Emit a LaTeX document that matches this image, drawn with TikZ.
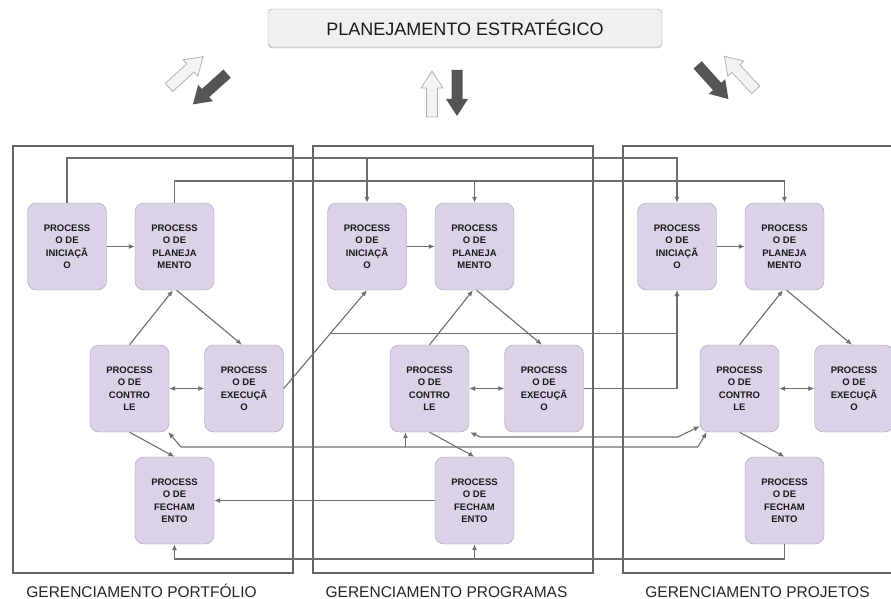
\documentclass[tikz,border=0pt]{standalone}
\usepackage{fontspec}
\setmainfont{Liberation Sans}
\usetikzlibrary{positioning,arrows.meta,shadows}

\definecolor{boxfill}{HTML}{DAD3E8}
\definecolor{boxline}{HTML}{A29DAE}
\definecolor{wiregray}{HTML}{6E6E6E}
\definecolor{framegray}{HTML}{666666}
\definecolor{darkarrow}{HTML}{555555}
\definecolor{lightarrow}{HTML}{F3F3F3}

\tikzset{blockarrow/.pic={
    \path[pic actions] (-23,-5.5) -- (6,-5.5) -- (6,-11) -- (23,0) -- (6,11) -- (6,5.5) -- (-23,5.5) -- cycle;
}}

\begin{document}
\begin{tikzpicture}[x=1pt,y=-1pt,>={Latex[length=6pt,width=5pt]}]

\tikzstyle{proc}=[draw=boxline, fill=boxfill, rounded corners=9pt, minimum width=79pt, minimum height=87pt, inner sep=0pt, align=center, text=black!90, font=\fontsize{9.5}{12.5}\selectfont\bfseries]
\tikzstyle{wire}=[draw=wiregray, line width=1.1pt]
\tikzstyle{panel}=[draw=framegray, line width=1.4pt]
\tikzstyle{paneltitle}=[font=\fontsize{15.5}{18}\selectfont, text=black!85, inner sep=0pt, anchor=base]
\tikzstyle{lightblk}=[draw=gray!60, line width=0.8pt, fill=lightarrow]
\tikzstyle{darkblk}=[fill=darkarrow]

\clip (0,0) rectangle (891,599);

\node[draw=gray!70, fill=gray!12, rounded corners=4pt, minimum width=394pt, minimum height=38pt, drop shadow={shadow xshift=0pt, shadow yshift=-1.5pt, opacity=0.3}, font=\fontsize{18}{20}\selectfont, text=black!90] (plan) at (465,28) {PLANEJAMENTO ESTRATÉGICO};

\pic[lightblk, rotate=42] (upL) at (186,72) {blockarrow};
\pic[darkblk, rotate=222] (downL) at (210,89) {blockarrow};
\pic[lightblk, rotate=90] (upM) at (432,94) {blockarrow};
\pic[darkblk, rotate=-90] (downM) at (457,93) {blockarrow};
\pic[darkblk, rotate=-48] (downR) at (713,82) {blockarrow};
\pic[lightblk, rotate=133] (upR) at (740,73) {blockarrow};

\draw[panel] (13,146) rectangle (293,573);
\draw[panel] (313,146) rectangle (593,573);
\draw[panel] (623,146) rectangle (905,573);

\node[paneltitle] (tport) at (141.5,597) {GERENCIAMENTO PORTFÓLIO};
\node[paneltitle] (tprog) at (446.5,597) {GERENCIAMENTO PROGRAMAS};
\node[paneltitle] (tproj) at (757.5,597) {GERENCIAMENTO PROJETOS};

\foreach \p/\dx in {1/0,2/300,3/610} {
    \node[proc] (ini\p) at (67+\dx,246.5) {PROCESS\\O DE\\INICIAÇÃ\\O};
    \node[proc] (pla\p) at (174.5+\dx,246.5) {PROCESS\\O DE\\PLANEJA\\MENTO};
    \node[proc] (con\p) at (129.5+\dx,388.5) {PROCESS\\O DE\\CONTRO\\LE};
    \node[proc] (exe\p) at (244+\dx,388.5) {PROCESS\\O DE\\EXECUÇÃ\\O};
    \node[proc] (fec\p) at (174.5+\dx,500.5) {PROCESS\\O DE\\FECHAM\\ENTO};
    \draw[wire,->] (ini\p) -- (pla\p);
    \draw[wire,->] (con\p.north) -- ([xshift=-1.5pt]pla\p.south);
    \draw[wire,->] ([xshift=2pt]pla\p.south) -- ([xshift=-2pt]exe\p.north);
    \draw[wire,<->] (con\p) -- (exe\p);
    \draw[wire,->] (con\p.south) -- (fec\p.north);
}

\coordinate (busI) at (0,158);
\coordinate (busP) at (0,181);
\coordinate (busK) at (0,437);
\coordinate (busC) at (0,447);
\coordinate (busF) at (0,559);

\draw[wire,->] (ini1.north) |- (ini3.north |- busI) -- (ini3.north);
\draw[wire,->] (ini2.north |- busI) -- (ini2.north);
\draw[wire,->] (pla1.north) |- (pla3.north |- busP) -- (pla3.north);
\draw[wire,->] (pla2.north |- busP) -- (pla2.north);

\draw[wire,->] (exe1.east) -- coordinate[pos=0.56] (split) (ini2.south);
\draw[wire,->] (split) -| (ini3.south);
\draw[wire,->] (exe2.east) -| (ini3.south);

\draw[wire,<->] ([xshift=-1pt]con1.south east) -- ([xshift=12pt]con1.south east |- busC) -- ([xshift=-2pt]con3.south west |- busC) -- ([xshift=7pt]con3.south west);
\draw[wire,->] ([xshift=-24pt]con2.south |- busC) -- ([xshift=-24pt]con2.south);
\draw[wire,<->] ([xshift=1pt]con2.south east) -- ([xshift=11pt]con2.south east |- busK) -- ([xshift=-22pt]con3.south west |- busK) -- ([yshift=6pt]con3.south west);

\draw[wire,->] (fec2.west) -- (fec1.east);
\draw[wire,->] (fec3.south) |- (fec1.south |- busF) -- (fec1.south);
\draw[wire,->] (fec2.south |- busF) -- (fec2.south);

\end{tikzpicture}
\end{document}
